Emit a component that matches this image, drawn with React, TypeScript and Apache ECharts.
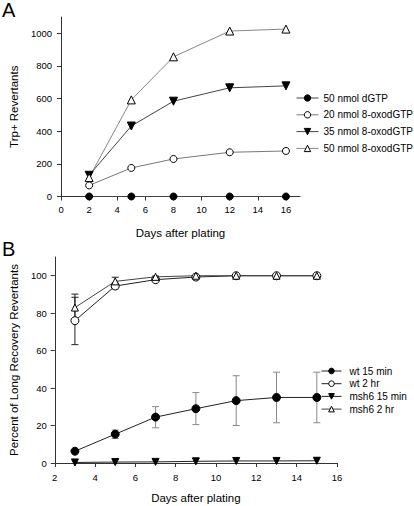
import React, { useEffect, useRef } from 'react';
import * as echarts from 'echarts';

// ---------- Panel A data ----------
const daysA = [2, 5, 8, 12, 16];
const dGTP50 = [0, 0, 0, 0, 0];
const oxo20 = [68, 175, 230, 271, 279];
const oxo35 = [130, 432, 584, 666, 678];
const oxo50 = [116, 592, 856, 1014, 1026];
const ticksAx = [0, 2, 4, 6, 8, 10, 12, 14, 16];
const ticksAy = [0, 200, 400, 600, 800, 1000];
const namesA = ['50 nmol dGTP', '20 nmol 8-oxodGTP', '35 nmol 8-oxodGTP', '50 nmol 8-oxodGTP'];

// ---------- Panel B data ----------
const daysB = [3, 5, 7, 9, 11, 13, 15];
const wt15 = [6.3, 15.4, 24.5, 29, 33.3, 35, 35];
const wt15Low = [5.5, 13.1, 18.8, 20.5, 20, 21.5, 21.5];
const wt15High = [7.1, 17.6, 30.1, 37.6, 46.6, 48.5, 48.5];
const wt2 = [76, 94.5, 97.9, 99.3, 100, 100, 100];
const wt2Low = [63.2, 93, 97, 98.7];
const wt2High = [88.5, 96, 98.8, 99.8];
const msh15 = [0.3, 0.5, 0.6, 0.9, 1.1, 1.1, 1.2];
const msh2 = [83, 97, 99.4, 100, 100, 100, 100];
const msh2Low = [76, 95, 99, 99.6];
const msh2High = [90.2, 99.2, 99.8, 100.3];
const ticksBx = [2, 4, 6, 8, 10, 12, 14, 16];
const ticksBy = [0, 20, 40, 60, 80, 100];
const namesB = ['wt 15 min', 'wt 2 hr', 'msh6 15 min', 'msh6 2 hr'];

const FONT = '"Liberation Sans", Arial, sans-serif';

const pairs = (xs: number[], ys: number[]) => ys.map((y, i) => [xs[i], y]);
const triples = (xs: number[], lo: number[], hi: number[]) => lo.map((l, i) => [xs[i], l, hi[i]]);

const errRender = (color: string) => (params: any, api: any) => {
  const x = api.value(0);
  const a = api.coord([x, api.value(1)]);
  const b = api.coord([x, api.value(2)]);
  const w = 3.5;
  const st = { stroke: color, lineWidth: 1 };
  return {
    type: 'group',
    children: [
      { type: 'line', shape: { x1: a[0], y1: a[1], x2: b[0], y2: b[1] }, style: st },
      { type: 'line', shape: { x1: a[0] - w, y1: a[1], x2: a[0] + w, y2: a[1] }, style: st },
      { type: 'line', shape: { x1: b[0] - w, y1: b[1], x2: b[0] + w, y2: b[1] }, style: st },
    ],
  };
};

const axisCommon = {
  type: 'value' as const,
  splitLine: { show: false },
  axisLine: { show: true, onZero: false, lineStyle: { color: '#333', width: 1 } },
  nameLocation: 'middle' as const,
  nameTextStyle: { fontSize: 11.5, fontFamily: FONT, color: '#000', fontWeight: 'normal' },
};

const lbl = (vals: number[], margin: number) => ({
  customValues: vals,
  fontSize: 9.5,
  fontFamily: FONT,
  color: '#000',
  margin,
  formatter: (v: number) => String(v),
});
const tck = (vals: number[]) => ({
  show: true,
  customValues: vals,
  length: 4,
  lineStyle: { color: '#333' },
});

const lineSeries = (
  name: string,
  data: number[][],
  xi: number,
  symbol: string,
  filled: boolean,
  lineColor: string,
  size: number,
  rotate = 0
) => ({
  name,
  type: 'line',
  xAxisIndex: xi,
  yAxisIndex: xi,
  data,
  symbol,
  symbolSize: size,
  symbolRotate: rotate,
  showSymbol: true,
  z: 3,
  lineStyle: { color: lineColor, width: 1 },
  itemStyle: filled
    ? { color: '#000', borderColor: '#000', borderWidth: 1 }
    : { color: '#fff', borderColor: '#000', borderWidth: 1 },
  emphasis: { disabled: true },
});

const legendCommon = {
  orient: 'vertical',
  padding: 0,
  selectedMode: false,
  lineStyle: { width: 1 },
  itemStyle: { borderWidth: 1 },
};

export default function App() {
  const ref = useRef<HTMLDivElement>(null);
  useEffect(() => {
    const chart = echarts.init(ref.current!, null, { renderer: 'svg' });
    const option: any = {
      animation: false,
      backgroundColor: '#fff',
      textStyle: { fontFamily: FONT },
      graphic: [
        { type: 'text', left: 2, top: 0, style: { text: 'A', fontSize: 20, fontFamily: FONT, fill: '#000' } },
        { type: 'text', left: 2, top: 239, style: { text: 'B', fontSize: 20, fontFamily: FONT, fill: '#000' } },
      ],
      grid: [
        { left: 43, top: 17, width: 257, height: 179.5 },
        { left: 42, top: 257, width: 295, height: 206 },
      ],
      xAxis: [
        {
          ...axisCommon,
          gridIndex: 0,
          min: 0,
          max: 17,
          axisTick: tck(ticksAx),
          axisLabel: lbl(ticksAx, 8),
          name: 'Days after plating',
          nameGap: 30,
        },
        {
          ...axisCommon,
          gridIndex: 1,
          min: 2,
          max: 16,
          axisTick: tck(ticksBx),
          axisLabel: lbl(ticksBx, 9),
          name: 'Days after plating',
          nameGap: 29,
        },
      ],
      yAxis: [
        {
          ...axisCommon,
          gridIndex: 0,
          min: 0,
          max: 1100,
          axisTick: tck(ticksAy),
          axisLabel: lbl(ticksAy, 9),
          name: 'Trp+ Revertants',
          nameGap: 27,
        },
        {
          ...axisCommon,
          gridIndex: 1,
          min: 0,
          max: 110,
          axisTick: tck(ticksBy),
          axisLabel: lbl(ticksBy, 8),
          name: 'Percent of Long Recovery Revertants',
          nameGap: 22,
        },
      ],
      legend: [
        {
          ...legendCommon,
          data: namesA,
          left: 296,
          top: 93,
          itemWidth: 22,
          itemHeight: 8,
          itemGap: 6.8,
          textStyle: { fontSize: 10, fontFamily: FONT, color: '#000' },
        },
        {
          ...legendCommon,
          data: namesB,
          left: 321,
          top: 366,
          itemWidth: 20,
          itemHeight: 7,
          itemGap: 2.7,
          textStyle: { fontSize: 10, fontFamily: FONT, color: '#000', padding: [0, 0, 0, 3] },
        },
      ],
      series: [
        lineSeries(namesA[0], pairs(daysA, dGTP50), 0, 'circle', true, '#444', 7),
        lineSeries(namesA[1], pairs(daysA, oxo20), 0, 'circle', false, '#777', 7),
        lineSeries(namesA[2], pairs(daysA, oxo35), 0, 'triangle', true, '#444', 8, 180),
        lineSeries(namesA[3], pairs(daysA, oxo50), 0, 'triangle', false, '#888', 8),
        {
          type: 'custom',
          xAxisIndex: 1,
          yAxisIndex: 1,
          z: 1,
          renderItem: errRender('#888'),
          encode: { x: 0, y: [1, 2] },
          data: triples(daysB, wt15Low, wt15High),
        },
        {
          type: 'custom',
          xAxisIndex: 1,
          yAxisIndex: 1,
          z: 1,
          renderItem: errRender('#222'),
          encode: { x: 0, y: [1, 2] },
          data: triples(daysB, wt2Low, wt2High),
        },
        {
          type: 'custom',
          xAxisIndex: 1,
          yAxisIndex: 1,
          z: 1,
          renderItem: errRender('#222'),
          encode: { x: 0, y: [1, 2] },
          data: triples(daysB, msh2Low, msh2High),
        },
        lineSeries(namesB[0], pairs(daysB, wt15), 1, 'circle', true, '#222', 8),
        lineSeries(namesB[1], pairs(daysB, wt2), 1, 'circle', false, '#222', 8),
        lineSeries(namesB[2], pairs(daysB, msh15), 1, 'triangle', true, '#222', 7, 180),
        lineSeries(namesB[3], pairs(daysB, msh2), 1, 'triangle', false, '#444', 7),
      ],
    };
    chart.setOption(option);
    return () => chart.dispose();
  }, []);
  return (
    <div
      ref={ref}
      style={{ position: 'fixed', left: 0, top: 0, width: 414, height: 506, background: '#fff' }}
    />
  );
}
